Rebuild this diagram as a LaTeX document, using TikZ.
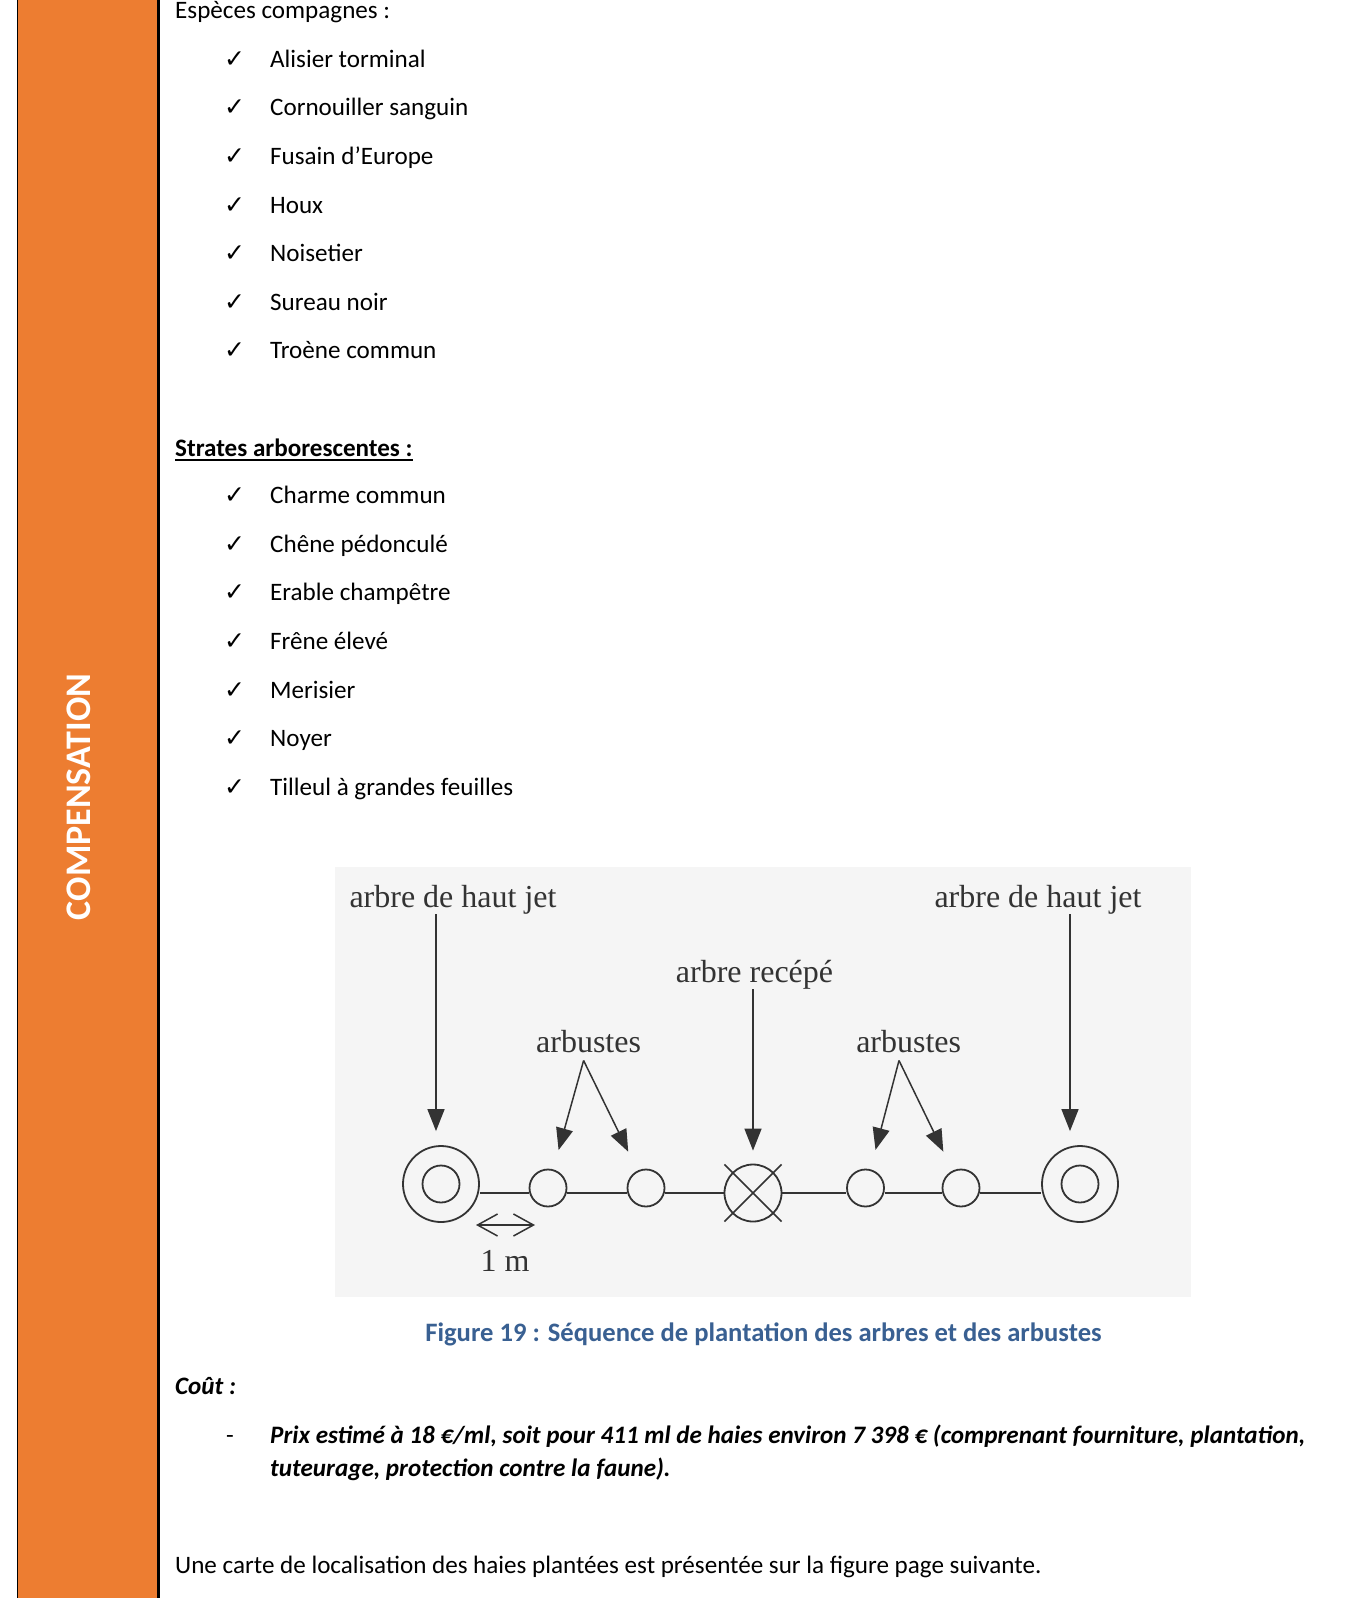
\documentclass[tikz,border=0pt]{standalone}
\usepackage{fontspec}
\setmainfont{Carlito}
\newfontfamily\figfont{Liberation Serif}
\newfontfamily\tickfont{DejaVu Sans}
\usetikzlibrary{arrows.meta}
\definecolor{sideorange}{HTML}{ED7D31}
\definecolor{captionblue}{RGB}{57,96,146}
\definecolor{figback}{HTML}{F5F5F5}
\definecolor{figink}{HTML}{333333}
\newcommand{\bodysize}{\fontsize{25.1}{30}\selectfont}
\tikzset{
  body/.style={anchor=base west,inner sep=0pt,font=\bodysize},
  tick/.style={anchor=base west,inner sep=0pt,font=\tickfont\fontsize{25}{28}\selectfont},
  figlabel/.style={anchor=base,inner sep=0pt,text=figink,font=\figfont\fontsize{32}{36}\selectfont},
  plant/.style={circle,draw=figink,line width=1.8pt,inner sep=0pt},
  hedge/.style={figink,line width=1.5pt},
  pointer/.style={figink,line width=1.5pt,-{Triangle[length=22pt,width=17pt]}},
}
\begin{document}
\begin{tikzpicture}[x=1pt,y=-1pt]
        \useasboundingbox (0,0) rectangle (1366,1598);
        \fill [white] (0,0) rectangle (1366,1598);
        \fill [sideorange] (17,0) rectangle (157,1598);
        \draw [line width=1pt] (17.5,0) -- (17.5,1598);
        \fill [black] (157,0) rectangle (160,1598);
        \node (side title)
          [rotate=90,text=white,font=\bfseries\fontsize{36}{40}\selectfont]
          at (79,797) {COMPENSATION};

        \node (companions) [body] at (175,18.4) {Espèces compagnes :};
        \foreach \species [count=\i] in {Alisier torminal,Cornouiller sanguin,Fusain d’Europe,Houx,Noisetier,Sureau noir,Troène commun}
        {
          \node (tick c\i) [tick] at (224,18.7+48.6*\i) {✓};
          \node (companion \i) [body] at (270,18.7+48.6*\i) {\species};
        }

        \node (strata) [body,font=\bodysize\bfseries] at (175,456.7) {Strates arborescentes :};
        \draw [line width=1.8pt]
          ([yshift=-3pt]strata.base west)
          -- ([yshift=-3pt]strata.base east)
        ;
        \foreach \species [count=\i] in {Charme commun,Chêne pédonculé,Erable champêtre,Frêne élevé,Merisier,Noyer,Tilleul à grandes feuilles}
        {
          \node (tick t\i) [tick] at (224,455+48.6*\i) {✓};
          \node (tree \i) [body] at (270,455+48.6*\i) {\species};
        }

        \fill [figback] (335,867) rectangle (1191,1297);
        \node (tall left label) [figlabel] at (453,907) {arbre de haut jet};
        \node (tall right label) [figlabel] at (1038,907) {arbre de haut jet};
        \node (cut label) [figlabel] at (754.5,982) {arbre recépé};
        \node (shrubs left) [figlabel] at (588.6,1052) {arbustes};
        \node (shrubs right) [figlabel] at (908.7,1052) {arbustes};

        \node (tree left) [plant,minimum size=76pt] at (441,1184) {};
        \node (core left) [plant,minimum size=37pt] at (tree left.center) {};
        \node (shrub a) [plant,minimum size=37pt] at (548,1188) {};
        \node (shrub b) [plant,minimum size=37pt] at (646,1188) {};
        \node (cut) [plant,minimum size=57pt] at (753,1193) {};
        \node (shrub c) [plant,minimum size=37pt] at (865.5,1188) {};
        \node (shrub d) [plant,minimum size=37pt] at (961,1188) {};
        \node (tree right) [plant,minimum size=76pt] at (1080,1184) {};
        \node (core right) [plant,minimum size=37pt] at (tree right.center) {};

        \foreach \from/\to in {tree left/shrub a,shrub a/shrub b,shrub b/cut,cut/shrub c,shrub c/shrub d,shrub d/tree right}
          \draw [hedge] (\from.east |- cut.center) -- (\to.west |- cut.center);
        \draw [hedge,shorten <=-11pt,shorten >=-11pt]
          (cut.north west) -- (cut.south east)
        ;
        \draw [hedge,shorten <=-11pt,shorten >=-11pt]
          (cut.north east) -- (cut.south west)
        ;

        \coordinate (tip left) at ([xshift=-5pt,yshift=14pt]tree left.north);
        \coordinate (tip right) at ([xshift=-10pt,yshift=14pt]tree right.north);
        \draw [pointer] (tall left label.south -| tip left) -- (tip left);
        \draw [pointer] (tall right label.south -| tip right) -- (tip right);
        \draw [pointer,shorten >=13pt] (cut label.south -| cut.north) -- (cut.north);

        \coordinate (fork left) at ([xshift=-5pt,yshift=-8pt]shrubs left.south);
        \coordinate (fork right) at ([xshift=-9.7pt,yshift=-8pt]shrubs right.south);
        \draw [pointer,shorten >=20pt] (fork left) -- (shrub a);
        \draw [pointer,shorten >=21pt] (fork left) -- (shrub b);
        \draw [pointer,shorten >=20pt] (fork right) -- (shrub c);
        \draw [pointer,shorten >=21pt] (fork right) -- (shrub d);

        \coordinate (gap west) at (476,1225);
        \coordinate (gap east) at (535,1225);
        \draw [hedge,{Straight Barb[length=20pt,width=22pt]}-{Straight Barb[length=20pt,width=22pt]}]
          (gap west) -- (gap east)
        ;
        \node (gap label) [figlabel] at (505,1271) {1 m};

        \node (caption)
          [anchor=base,inner sep=0pt,text=captionblue,font=\fontsize{26.6}{30}\selectfont\bfseries]
          at (763.5,1341) {Figure 19 : Séquence de plantation des arbres et des arbustes};
        \node (cost) [body,font=\bodysize\bfseries\itshape] at (175,1394.5) {Coût :};
        \node (dash) [body] at (226,1443.5) {-};
        \node (price a) [body,font=\bodysize\bfseries\itshape] at (270,1443.5)
          {Prix estimé à 18 €/ml, soit pour 411 ml de haies environ 7 398 € (comprenant fourniture, plantation,};
        \node (price b) [body,font=\bodysize\bfseries\itshape] at (270,1476)
          {tuteurage, protection contre la faune).};
        \node (closing) [body] at (175,1573)
          {Une carte de localisation des haies plantées est présentée sur la figure page suivante.};
      \end{tikzpicture}
\end{document}
